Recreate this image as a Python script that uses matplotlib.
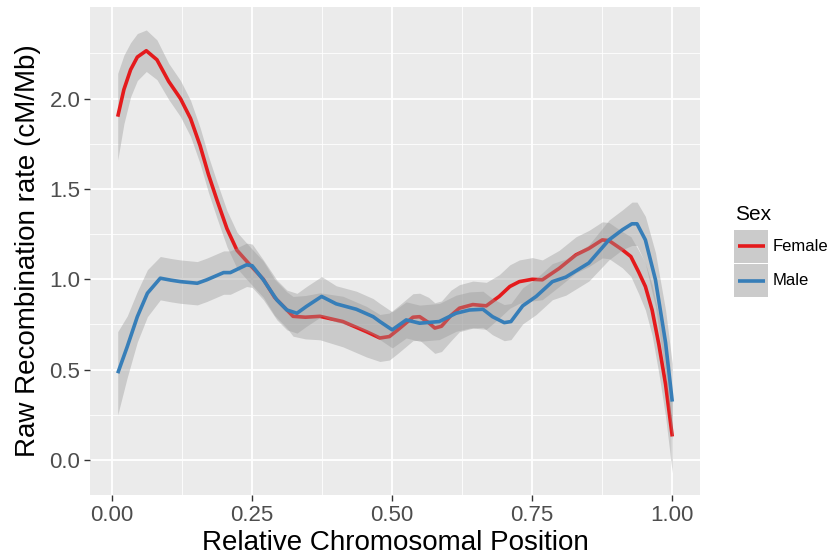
import matplotlib
matplotlib.use("Agg")
import matplotlib.pyplot as plt
from matplotlib.patches import Rectangle
from matplotlib.lines import Line2D
import numpy as np

# ---------------- data ----------------
female_x = [0.01, 0.021, 0.033, 0.045, 0.061, 0.08, 0.101, 0.122, 0.14, 0.157, 0.172, 0.187,
            0.205, 0.223, 0.246, 0.27, 0.29, 0.312, 0.323, 0.345, 0.371, 0.412, 0.454, 0.478,
            0.495, 0.51, 0.537, 0.549, 0.565, 0.576, 0.588, 0.605, 0.62, 0.644, 0.668, 0.691,
            0.71, 0.727, 0.75, 0.768, 0.798, 0.828, 0.851, 0.875, 0.887, 0.911, 0.926, 0.94,
            0.952, 0.964, 0.976, 0.988, 1.0]
female_y = [1.90, 2.05, 2.16, 2.23, 2.265, 2.215, 2.095, 2.00, 1.89, 1.74, 1.58, 1.44,
            1.28, 1.16, 1.08, 1.0, 0.90, 0.83, 0.795, 0.79, 0.795, 0.766, 0.71, 0.675,
            0.683, 0.72, 0.79, 0.793, 0.76, 0.73, 0.74, 0.80, 0.84, 0.86, 0.853, 0.905,
            0.96, 0.987, 1.0, 0.997, 1.06, 1.135, 1.17, 1.218, 1.214, 1.163, 1.126, 1.04,
            0.96, 0.83, 0.64, 0.42, 0.13]
female_ci = [0.24, 0.19, 0.15, 0.13, 0.115, 0.11, 0.10, 0.10, 0.10, 0.10, 0.10, 0.10,
             0.10, 0.10, 0.10, 0.10, 0.10, 0.10, 0.11, 0.12, 0.13, 0.14, 0.14, 0.13,
             0.13, 0.13, 0.13, 0.13, 0.14, 0.14, 0.14, 0.14, 0.13, 0.13, 0.13, 0.12,
             0.12, 0.12, 0.12, 0.11, 0.10, 0.10, 0.10, 0.10, 0.10, 0.10, 0.11, 0.12,
             0.13, 0.14, 0.16, 0.18, 0.20]

male_x = [0.01, 0.027, 0.045, 0.063, 0.086, 0.105, 0.122, 0.152, 0.169, 0.199, 0.211, 0.24,
          0.25, 0.27, 0.294, 0.312, 0.33, 0.347, 0.374, 0.40, 0.436, 0.466, 0.478, 0.50,
          0.525, 0.549, 0.584, 0.614, 0.638, 0.662, 0.679, 0.70, 0.712, 0.733, 0.757, 0.786,
          0.81, 0.851, 0.887, 0.911, 0.928, 0.937, 0.952, 0.97, 0.988, 1.0]
male_y = [0.48, 0.627, 0.793, 0.923, 1.006, 0.995, 0.987, 0.978, 0.997, 1.037, 1.037, 1.08,
          1.075, 0.997, 0.886, 0.83, 0.812, 0.85, 0.905, 0.864, 0.834, 0.793, 0.766, 0.72,
          0.775, 0.757, 0.766, 0.812, 0.83, 0.834, 0.793, 0.76, 0.766, 0.853, 0.905, 0.987,
          1.012, 1.09, 1.218, 1.274, 1.307, 1.307, 1.218, 0.997, 0.65, 0.323]
male_ci = [0.23, 0.17, 0.14, 0.13, 0.12, 0.12, 0.12, 0.12, 0.12, 0.12, 0.12, 0.12,
           0.12, 0.11, 0.11, 0.11, 0.11, 0.11, 0.11, 0.10, 0.10, 0.10, 0.10, 0.10,
           0.10, 0.10, 0.10, 0.10, 0.10, 0.10, 0.10, 0.10, 0.10, 0.10, 0.10, 0.10,
           0.10, 0.10, 0.11, 0.11, 0.12, 0.12, 0.13, 0.15, 0.18, 0.21]

series_names = ["Female", "Male"]
series_colors = ["#E41A1C", "#377EB8"]

x_ticks = [0.0, 0.25, 0.5, 0.75, 1.0]
x_tick_labels = ["0.00", "0.25", "0.50", "0.75", "1.00"]
y_ticks = [0.0, 0.5, 1.0, 1.5, 2.0]
y_tick_labels = ["0.0", "0.5", "1.0", "1.5", "2.0"]

# ---------------- figure ----------------
plt.rcParams['font.family'] = ['Liberation Sans', 'DejaVu Sans']
W, H = 830, 559
fig = plt.figure(figsize=(W / 100, H / 100), dpi=100)
fig.patch.set_facecolor("white")

L, R, T, B = 90, 700, 7, 495
ax = fig.add_axes([L / W, 1 - B / H, (R - L) / W, (B - T) / H])
ax.set_facecolor("#EBEBEB")
for s in ax.spines.values():
    s.set_visible(False)

ax.set_xlim(-0.0395, 1.0495)
ax.set_ylim(-0.194, 2.507)

ax.set_xticks(x_ticks)
ax.set_xticklabels(x_tick_labels)
ax.set_yticks(y_ticks)
ax.set_yticklabels(y_tick_labels)
ax.set_xticks([0.125, 0.375, 0.625, 0.875], minor=True)
ax.set_yticks([0.25, 0.75, 1.25, 1.75, 2.25], minor=True)
ax.grid(which="major", color="white", linewidth=1.3)
ax.grid(which="minor", color="white", linewidth=0.6)
ax.set_axisbelow(True)
ax.tick_params(which="major", length=4, width=1, color="#333333",
               labelcolor="#4D4D4D", labelsize=16, pad=3)
ax.tick_params(which="minor", length=0)

ax.set_xlabel("Relative Chromosomal Position", fontsize=20, color="black", labelpad=3)
ax.set_ylabel("Raw Recombination rate (cM/Mb)", fontsize=20, color="black", labelpad=6)

data = [(female_x, female_y, female_ci), (male_x, male_y, male_ci)]
z = 2
for (xs, ys, ci), col in zip(data, series_colors):
    xs = np.array(xs); ys = np.array(ys); ci = np.array(ci)
    ax.fill_between(xs, ys - ci, ys + ci, color="#999999", alpha=0.4, linewidth=0, zorder=z)
    ax.plot(xs, ys, color=col, linewidth=2.6, zorder=z + 1, solid_capstyle="butt")
    z += 2

# ---------------- legend (ggplot style) ----------------
def fx(px):
    return px / W

def fy(py):
    return 1 - py / H

fig.text(fx(735), fy(215), "Sex", fontsize=15, color="black", va="center", ha="left")
key_tops = [230, 264]
for top, name, col in zip(key_tops, series_names, series_colors):
    fig.patches.append(Rectangle((fx(734), fy(top + 33)), 34 / W, 33 / H,
                                 transform=fig.transFigure, facecolor="#CBCBCB",
                                 edgecolor="none"))
    yc = top + 16.5
    fig.lines.append(Line2D([fx(738), fx(765)], [fy(yc), fy(yc)], transform=fig.transFigure,
                            color=col, linewidth=2.6, solid_capstyle="butt"))
    fig.text(fx(773), fy(yc), name, fontsize=12, color="black", va="center", ha="left")

fig.savefig("out.png", dpi=100)
